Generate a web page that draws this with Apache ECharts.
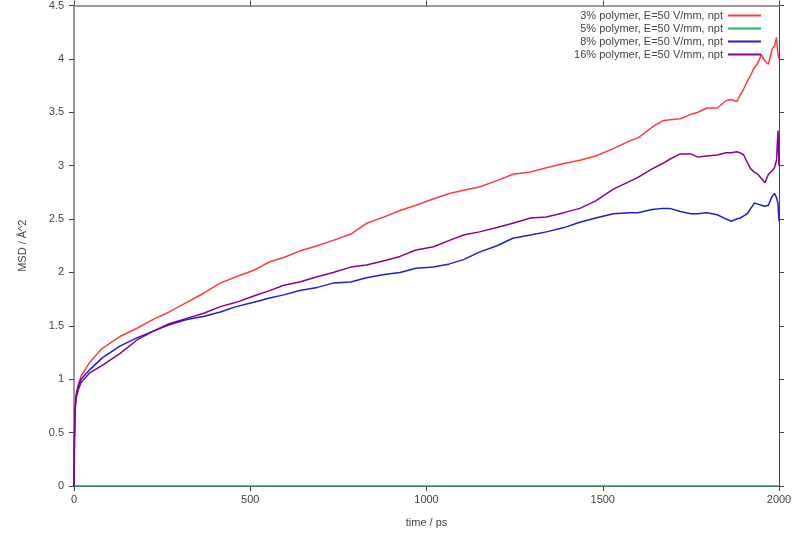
<!DOCTYPE html>
<html>
<head>
<meta charset="utf-8">
<script src="https://cdn.jsdelivr.net/npm/echarts@6/dist/echarts.min.js"></script>
<style>
  html, body { margin: 0; padding: 0; background: #fff; }
  #chart { width: 800px; height: 533px; }
</style>
</head>
<body>
<div id="chart"></div>
<script>
// time / ps
const times = [
  0, 1, 3, 6, 12, 20, 45, 80, 130, 180,
  225, 270, 320, 370, 415, 460, 510, 555, 595, 640,
  690, 735, 785, 830, 880, 925, 970, 1020, 1065, 1105,
  1150, 1200, 1245, 1295, 1340, 1390, 1435, 1480, 1530, 1575,
  1600, 1640, 1670, 1690, 1720, 1750, 1770, 1795, 1825, 1850,
  1865, 1880, 1890, 1900, 1910, 1920, 1930, 1940, 1950, 1960,
  1970, 1980, 1987, 1993, 1997, 2000
];

// MSD values
const msd3 = [
  0, 0.45, 0.78, 0.86, 0.95, 1.03, 1.16, 1.29, 1.40, 1.48,
  1.56, 1.63, 1.72, 1.81, 1.90, 1.96, 2.02, 2.10, 2.14, 2.20,
  2.25, 2.30, 2.36, 2.46, 2.52, 2.58, 2.63, 2.69, 2.74, 2.77,
  2.80, 2.86, 2.92, 2.94, 2.98, 3.02, 3.05, 3.09, 3.16, 3.23,
  3.26, 3.36, 3.42, 3.43, 3.44, 3.48, 3.50, 3.54, 3.54, 3.61,
  3.62, 3.60, 3.66, 3.72, 3.79, 3.85, 3.92, 3.96, 4.04, 3.98,
  3.95, 4.09, 4.12, 4.20, 4.05, 4.00
];
const msd5 = times.map(() => 0);
const msd8 = [
  0, 0.40, 0.72, 0.84, 0.93, 1.00, 1.09, 1.20, 1.31, 1.39,
  1.45, 1.51, 1.56, 1.59, 1.63, 1.68, 1.72, 1.76, 1.79, 1.83,
  1.86, 1.90, 1.91, 1.95, 1.98, 2.00, 2.04, 2.05, 2.08, 2.12,
  2.19, 2.25, 2.32, 2.35, 2.38, 2.42, 2.47, 2.51, 2.55, 2.56,
  2.56, 2.59, 2.60, 2.60, 2.57, 2.55, 2.55, 2.56, 2.54, 2.50,
  2.48, 2.50, 2.51, 2.53, 2.55, 2.60, 2.65, 2.64, 2.63, 2.62,
  2.63, 2.71, 2.74, 2.70, 2.65, 2.48
];
const msd16 = [
  0, 0.35, 0.70, 0.82, 0.90, 0.97, 1.06, 1.13, 1.24, 1.37,
  1.45, 1.52, 1.57, 1.62, 1.68, 1.72, 1.78, 1.83, 1.88, 1.91,
  1.96, 2.00, 2.05, 2.07, 2.11, 2.15, 2.21, 2.24, 2.30, 2.35,
  2.38, 2.42, 2.46, 2.51, 2.52, 2.56, 2.60, 2.67, 2.78, 2.85,
  2.89, 2.97, 3.02, 3.06, 3.11, 3.11, 3.08, 3.09, 3.10, 3.12,
  3.12, 3.13, 3.12, 3.10, 3.03, 2.97, 2.94, 2.92, 2.88, 2.84,
  2.92, 2.95, 2.98, 3.05, 3.33, 3.00
];

const seriesNames = [
  "3% polymer, E=50 V/mm, npt",
  "5% polymer, E=50 V/mm, npt",
  "8% polymer, E=50 V/mm, npt",
  "16% polymer, E=50 V/mm, npt"
];
const seriesData = [msd3, msd5, msd8, msd16];
const colors = ["#ff3b3b", "#22b35e", "#2020c4", "#880090"];

const font = "Liberation Sans, Arial, sans-serif";
const chart = echarts.init(document.getElementById("chart"));

chart.setOption({
  animation: false,
  backgroundColor: "#fff",
  grid: { left: 74, right: 21, top: 5, bottom: 46 },
  legend: {
    orient: "vertical",
    align: "right",
    right: 34,
    top: 4,
    itemWidth: 33,
    itemHeight: 2,
    itemGap: 0,
    icon: "rect",
    textStyle: { fontFamily: font, fontSize: 11, color: "#444", lineHeight: 13 },
    data: seriesNames
  },
  xAxis: [
    {
      type: "value",
      min: 0, max: 2000, interval: 500,
      name: "time / ps",
      nameLocation: "middle",
      nameGap: 31,
      nameTextStyle: { fontFamily: font, fontSize: 11, color: "#444" },
      axisLine: { show: true, lineStyle: { color: "#444", width: 1 } },
      axisTick: { show: true, inside: false, length: 5, lineStyle: { color: "#444" } },
      axisLabel: { fontFamily: font, fontSize: 11, color: "#444", margin: 8, formatter: (v) => String(v) },
      splitLine: { show: false }
    },
    {
      type: "value", position: "top",
      min: 0, max: 2000, interval: 500,
      axisLine: { show: true, onZero: false, lineStyle: { color: "#999", width: 2 } },
      axisTick: { show: true, length: 5, lineStyle: { color: "#444" } },
      axisLabel: { show: false },
      splitLine: { show: false }
    }
  ],
  yAxis: [
    {
      type: "value",
      min: 0, max: 4.5, interval: 0.5,
      name: "MSD / Å^2",
      nameLocation: "middle",
      nameGap: 46,
      nameTextStyle: { fontFamily: font, fontSize: 11, color: "#444" },
      axisLine: { show: true, lineStyle: { color: "#999", width: 2 } },
      axisTick: { show: true, length: 5, lineStyle: { color: "#444" } },
      axisLabel: { fontFamily: font, fontSize: 11, color: "#444", margin: 10 },
      splitLine: { show: false }
    },
    {
      type: "value", position: "right",
      min: 0, max: 4.5, interval: 0.5,
      axisLine: { show: true, onZero: false, lineStyle: { color: "#444", width: 1 } },
      axisTick: { show: true, length: 5, lineStyle: { color: "#444" } },
      axisLabel: { show: false },
      splitLine: { show: false }
    }
  ],
  series: seriesNames.map((name, i) => ({
    name: name,
    type: "line",
    showSymbol: false,
    symbol: "none",
    color: colors[i],
    lineStyle: { width: 1.5, color: colors[i] },
    data: times.map((t, k) => [t, seriesData[i][k]])
  }))
});
</script>
</body>
</html>
